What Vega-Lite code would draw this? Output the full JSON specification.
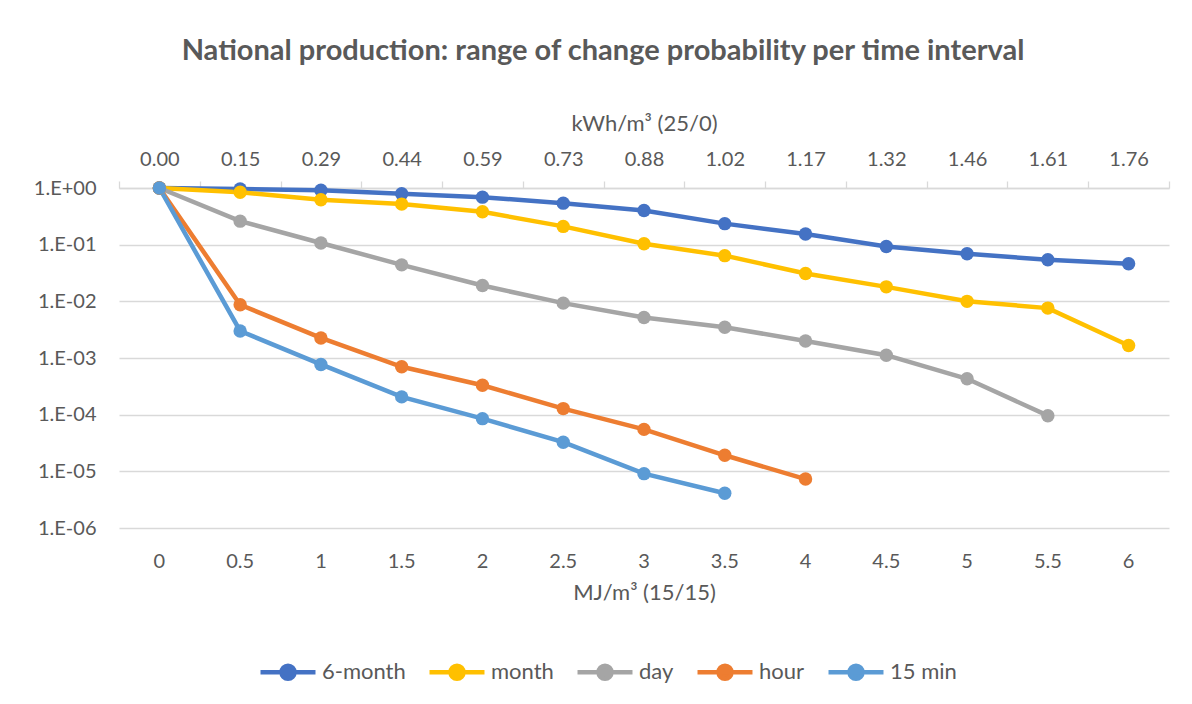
{
  "$schema": "https://vega.github.io/schema/vega-lite/v6.json",
  "autosize": {"type": "none"},
  "padding": {"left": 119, "top": 188, "right": 23, "bottom": 176},
  "width": 1050,
  "height": 340,
  "background": "white",
  "title": {
    "text": "National production: range of change probability per time interval",
    "anchor": "middle",
    "frame": "group",
    "dx": -41,
    "offset": 46,
    "fontSize": 29,
    "fontWeight": "bold",
    "font": "Lato",
    "color": "#595959"
  },
  "config": {
    "font": "Lato",
    "view": {"stroke": null},
    "axis": {"labelColor": "#595959", "titleColor": "#595959", "labelFont": "Lato", "titleFont": "Lato", "labelFontSize": 20, "titleFontSize": 22, "titleFontWeight": "normal"}
  },
  "data": {
    "values": [
      {"mj": 0, "series": "6-month", "p": 1},
      {"mj": 0.5, "series": "6-month", "p": 0.96},
      {"mj": 1, "series": "6-month", "p": 0.91},
      {"mj": 1.5, "series": "6-month", "p": 0.79},
      {"mj": 2, "series": "6-month", "p": 0.69},
      {"mj": 2.5, "series": "6-month", "p": 0.54},
      {"mj": 3, "series": "6-month", "p": 0.40},
      {"mj": 3.5, "series": "6-month", "p": 0.235},
      {"mj": 4, "series": "6-month", "p": 0.154},
      {"mj": 4.5, "series": "6-month", "p": 0.093},
      {"mj": 5, "series": "6-month", "p": 0.069},
      {"mj": 5.5, "series": "6-month", "p": 0.054},
      {"mj": 6, "series": "6-month", "p": 0.046},
      {"mj": 0, "series": "month", "p": 1},
      {"mj": 0.5, "series": "month", "p": 0.84},
      {"mj": 1, "series": "month", "p": 0.62},
      {"mj": 1.5, "series": "month", "p": 0.52},
      {"mj": 2, "series": "month", "p": 0.38},
      {"mj": 2.5, "series": "month", "p": 0.21},
      {"mj": 3, "series": "month", "p": 0.104},
      {"mj": 3.5, "series": "month", "p": 0.064},
      {"mj": 4, "series": "month", "p": 0.031},
      {"mj": 4.5, "series": "month", "p": 0.018},
      {"mj": 5, "series": "month", "p": 0.0100},
      {"mj": 5.5, "series": "month", "p": 0.0076},
      {"mj": 6, "series": "month", "p": 0.00166},
      {"mj": 0, "series": "day", "p": 1},
      {"mj": 0.5, "series": "day", "p": 0.26},
      {"mj": 1, "series": "day", "p": 0.107},
      {"mj": 1.5, "series": "day", "p": 0.044},
      {"mj": 2, "series": "day", "p": 0.019},
      {"mj": 2.5, "series": "day", "p": 0.0093},
      {"mj": 3, "series": "day", "p": 0.0052},
      {"mj": 3.5, "series": "day", "p": 0.0035},
      {"mj": 4, "series": "day", "p": 0.0020},
      {"mj": 4.5, "series": "day", "p": 0.00112},
      {"mj": 5, "series": "day", "p": 0.00043},
      {"mj": 5.5, "series": "day", "p": 0.000096},
      {"mj": 0, "series": "hour", "p": 1},
      {"mj": 0.5, "series": "hour", "p": 0.0087},
      {"mj": 1, "series": "hour", "p": 0.00226},
      {"mj": 1.5, "series": "hour", "p": 0.00070},
      {"mj": 2, "series": "hour", "p": 0.00033},
      {"mj": 2.5, "series": "hour", "p": 0.000128},
      {"mj": 3, "series": "hour", "p": 0.000055},
      {"mj": 3.5, "series": "hour", "p": 0.0000192},
      {"mj": 4, "series": "hour", "p": 0.0000073},
      {"mj": 0, "series": "15 min", "p": 1},
      {"mj": 0.5, "series": "15 min", "p": 0.0030},
      {"mj": 1, "series": "15 min", "p": 0.00077},
      {"mj": 1.5, "series": "15 min", "p": 0.000206},
      {"mj": 2, "series": "15 min", "p": 0.000085},
      {"mj": 2.5, "series": "15 min", "p": 0.0000327},
      {"mj": 3, "series": "15 min", "p": 0.0000091},
      {"mj": 3.5, "series": "15 min", "p": 0.0000041}
    ]
  },
  "resolve": {"axis": {"x": "independent"}},
  "layer": [
    {
      "mark": {"type": "line", "strokeWidth": 4.5, "point": {"filled": true, "size": 180, "opacity": 1}},
      "encoding": {
        "x": {
          "field": "mj", "type": "ordinal",
          "scale": {"type": "band", "paddingInner": 0, "paddingOuter": 0},
          "axis": {"orient": "bottom", "title": "MJ/m³ (15/15)", "labelAngle": 0, "ticks": false, "domain": false, "labelPadding": 23, "titlePadding": 11}
        },
        "y": {
          "field": "p", "type": "quantitative",
          "scale": {"type": "log", "domain": [0.000001, 1], "nice": false},
          "axis": {
            "title": null,
            "values": [0.000001, 0.00001, 0.0001, 0.001, 0.01, 0.1, 1],
            "labelExpr": "'1.E' + (round(log(datum.value)/LN10) >= 0 ? '+' : '-') + (abs(round(log(datum.value)/LN10)) < 10 ? '0' : '') + abs(round(log(datum.value)/LN10))",
            "domain": false, "ticks": false, "labelPadding": 23,
            "gridColor": "#d9d9d9", "gridWidth": 1.3
          }
        },
        "color": {
          "field": "series", "type": "nominal",
          "scale": {"domain": ["6-month", "month", "day", "hour", "15 min"], "range": ["#4472C4", "#FFC000", "#A5A5A5", "#ED7D31", "#5B9BD5"]},
          "legend": {
            "orient": "none", "direction": "horizontal", "legendX": 148, "legendY": 463,
            "title": null,
            "symbolType": "M-1.5,0L1.5,0M-0.355,0A0.355,0.355 0 1,0 0.355,0A0.355,0.355 0 1,0 -0.355,0",
            "symbolSize": 1344, "symbolStrokeWidth": 4.5,
            "labelFontSize": 22, "labelColor": "#595959", "labelFont": "Lato",
            "columnPadding": 14, "labelOffset": 13
          }
        }
      }
    },
    {
      "mark": {"type": "point", "opacity": 0},
      "encoding": {
        "x": {
          "field": "mj", "type": "ordinal",
          "axis": {
            "orient": "top", "title": "kWh/m³ (25/0)", "labelAngle": 0,
            "labelExpr": "['0.00','0.15','0.29','0.44','0.59','0.73','0.88','1.02','1.17','1.32','1.46','1.61','1.76'][round(datum.value*2)]",
            "tickBand": "extent", "tickSize": 7, "tickColor": "#d9d9d9", "domainColor": "#d9d9d9", "tickWidth": 1.3, "domainWidth": 1.3,
            "labelPadding": 12, "titlePadding": 14
          }
        },
        "y": {"field": "p", "type": "quantitative"}
      }
    }
  ]
}
